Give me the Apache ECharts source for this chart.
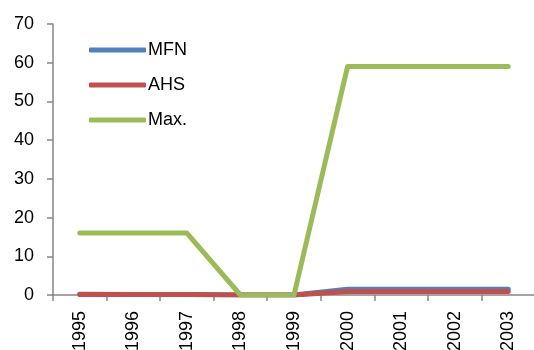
<!DOCTYPE html>
<html><head><meta charset="utf-8">
<script src="https://cdn.jsdelivr.net/npm/echarts@6/dist/echarts.min.js"></script>
<style>html,body{margin:0;padding:0;background:#fff}#c{width:534px;height:350px}</style>
</head><body><div id="c"></div>
<script>
const categories = ['1995','1996','1997','1998','1999','2000','2001','2002','2003'];
const mfn = [0.2, 0.1, 0.1, 0, 0, 1.5, 1.5, 1.5, 1.5];
const ahs = [0.1, 0.1, 0.1, 0, 0, 0.9, 0.9, 0.9, 0.9];
const maxv = [16, 16, 16, 0, 0, 59, 59, 59, 59];
const yTicks = {min: 0, max: 70, interval: 10};

const font = 'Liberation Sans';
const chart = echarts.init(document.getElementById('c'), null, {renderer: 'canvas'});
function line(name, data, color) {
  return {name, type: 'line', data, symbol: 'none', smooth: false,
    lineStyle: {width: 5, color, cap: 'round', join: 'round'}, itemStyle: {color}};
}
chart.setOption({
  animation: false,
  grid: {left: 53, right: -1, top: 24, bottom: 55, containLabel: false, outerBoundsMode: 'none'},
  legend: {
    orient: 'vertical', left: 84, top: 36, itemGap: 17,
    icon: 'roundRect', itemWidth: 57, itemHeight: 5,
    textStyle: {fontFamily: font, fontSize: 18, color: '#000', padding: [0, 0, 0, -3]},
    data: ['MFN', 'AHS', 'Max.']
  },
  xAxis: {
    type: 'category', data: categories, boundaryGap: true,
    axisLine: {lineStyle: {color: '#868686', width: 1.5}},
    axisTick: {show: true, length: 6, lineStyle: {color: '#868686', width: 1.5}},
    axisLabel: {rotate: 90, fontFamily: font, fontSize: 18, color: '#000', margin: 16}
  },
  yAxis: {
    type: 'value', min: yTicks.min, max: yTicks.max, interval: yTicks.interval,
    splitLine: {show: false},
    axisLine: {show: true, lineStyle: {color: '#868686', width: 1.5}},
    axisTick: {show: true, length: 6, lineStyle: {color: '#868686', width: 1.5}},
    axisLabel: {fontFamily: font, fontSize: 18, color: '#000', margin: 19}
  },
  series: [line('MFN', mfn, '#4F81BD'), line('AHS', ahs, '#C0504D'), line('Max.', maxv, '#9BBB59')]
});
</script></body></html>
